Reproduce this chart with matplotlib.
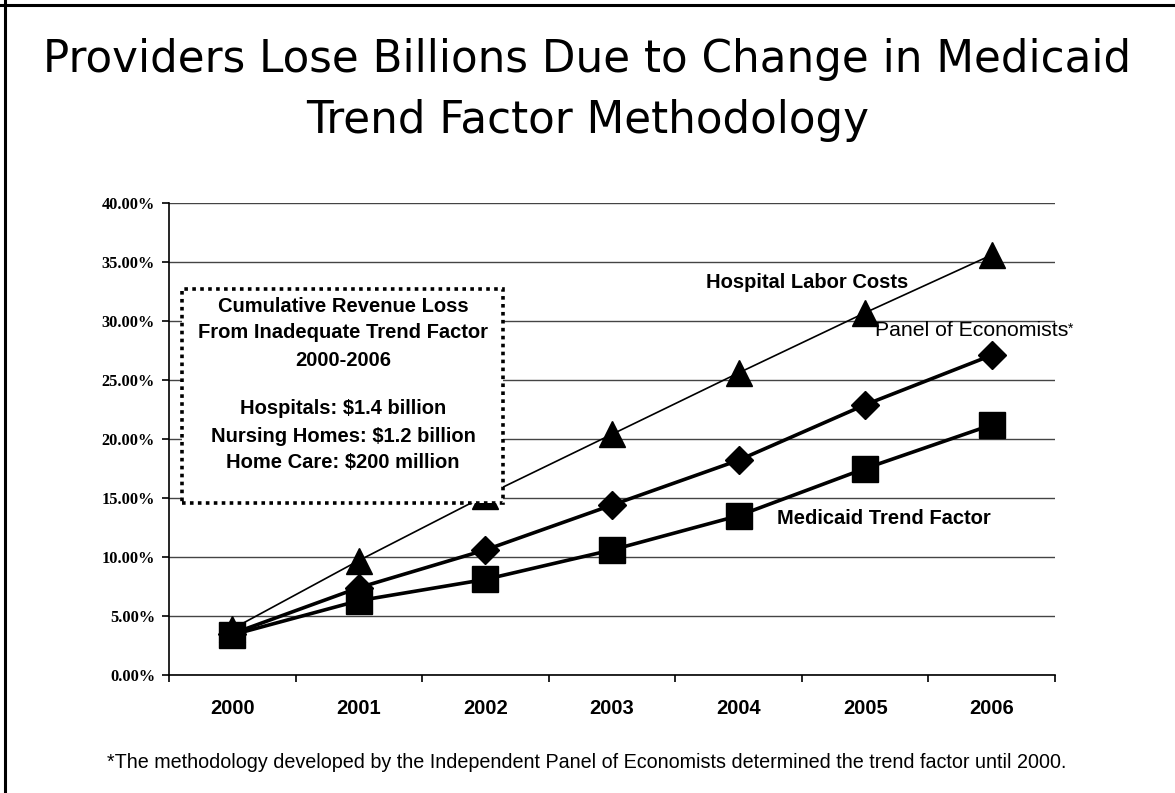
import matplotlib.pyplot as plt
from matplotlib.patches import Rectangle
from matplotlib.lines import Line2D

# Datos (porcentaje acumulado)
years = ["2000", "2001", "2002", "2003", "2004", "2005", "2006"]
hospital_labor = [3.9, 9.7, 15.2, 20.4, 25.6, 30.7, 35.6]
panel_economists = [3.5, 7.4, 10.6, 14.4, 18.2, 22.9, 27.1]
medicaid_trend = [3.4, 6.3, 8.1, 10.6, 13.5, 17.5, 21.2]
y_ticks = [0, 5, 10, 15, 20, 25, 30, 35, 40]

box_lines = [
    "Cumulative Revenue Loss",
    "From Inadequate Trend Factor",
    "2000-2006",
    "",
    "Hospitals: $1.4 billion",
    "Nursing Homes: $1.2 billion",
    "Home Care: $200 million",
]

plt.rcParams['font.family'] = ['Liberation Sans', 'DejaVu Sans']

fig = plt.figure(figsize=(11.75, 7.93), dpi=100)
ax = fig.add_axes([169 / 1175, 118 / 793, 886 / 1175, 472 / 793])

x = list(range(len(years)))

# Lineas
ax.plot(x, hospital_labor, color="black", lw=1.2, marker="^", markersize=19, zorder=3)
ax.plot(x, panel_economists, color="black", lw=2.6, marker="D", markersize=14, zorder=4)
ax.plot(x, medicaid_trend, color="black", lw=2.6, marker="s", markersize=19, zorder=5)

# Ejes
ax.set_xlim(-0.5, 6.5)
ax.set_ylim(0, 40)
ax.set_yticks(y_ticks)
ax.set_yticklabels([f"{v:.2f}%" for v in y_ticks], family="Liberation Serif",
                   fontweight="bold", fontsize=11.8)
ax.set_xticks(x)
ax.set_xticklabels(years, fontweight="bold", fontsize=14.5)
ax.set_xticks([i - 0.5 for i in range(len(years) + 1)], minor=True)
ax.tick_params(axis="x", which="major", length=0, pad=17)
ax.tick_params(axis="x", which="minor", length=5, width=1.2, direction="out")
ax.tick_params(axis="y", length=5, width=1.2, pad=5)
ax.grid(axis="y", color="#444444", lw=1.0, zorder=1)
ax.set_axisbelow(True)
for s in ["top", "right"]:
    ax.spines[s].set_visible(False)
for s in ["left", "bottom"]:
    ax.spines[s].set_linewidth(1.2)

# Caja de texto punteada
x0 = (182 - 169) / 126.6 - 0.5
x1 = (503 - 169) / 126.6 - 0.5
y0 = (675 - 503) / 11.8
y1 = (675 - 289) / 11.8
box = Rectangle((x0, y0), x1 - x0, y1 - y0, facecolor="white", edgecolor="black",
                lw=2.6, linestyle=(0, (1, 1.2)), zorder=6)
ax.add_patch(box)
line_px = [307, 333, 361, 385, 409, 437, 463]
cx = (343 - 169) / 126.6 - 0.5
for texto, py in zip(box_lines, line_px):
    if texto:
        ax.text(cx, (675 - py) / 11.8, texto, ha="center", va="center",
                fontsize=14.5, fontweight="bold", zorder=7)

# Etiquetas de series
ax.text(4.54, 33.3, "Hospital Labor Costs", ha="center", va="center",
        fontsize=14.5, fontweight="bold", zorder=7)
t = ax.text(5.077, 29.2, "Panel of Economists", ha="left", va="center",
            fontsize=15.3, zorder=7)
ax.annotate("*", xy=(1, 0.95), xycoords=t, ha="left", va="top", fontsize=10)
ax.text(4.30, 13.3, "Medicaid Trend Factor", ha="left", va="center",
        fontsize=14.5, fontweight="bold", zorder=7)

# Titulo
fig.text(0.5, 1 - 72 / 793, "Providers Lose Billions Due to Change in Medicaid",
         ha="center", va="baseline", fontsize=31.4, family="DejaVu Sans")
fig.text(0.5, 1 - 133 / 793, "Trend Factor Methodology",
         ha="center", va="baseline", fontsize=31.4, family="DejaVu Sans")

# Nota
fig.text(0.4996, 1 - 763 / 793,
         "*The methodology developed by the Independent Panel of Economists "
         "determined the trend factor until 2000.",
         ha="center", va="center", fontsize=14.2)

# Borde
fig.add_artist(Line2D([0, 1], [1 - 5 / 793] * 2, color="black", lw=2.2,
                      transform=fig.transFigure))
fig.add_artist(Line2D([5 / 1175] * 2, [0, 1], color="black", lw=2.2,
                      transform=fig.transFigure))

plt.savefig("out.png", dpi=100)
